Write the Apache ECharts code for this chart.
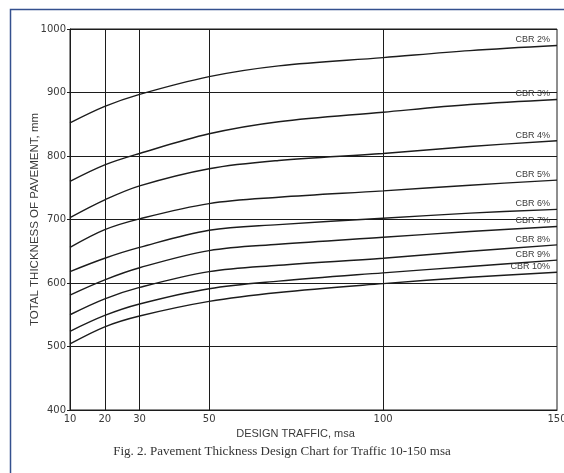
<!DOCTYPE html>
<html>
<head>
<meta charset="utf-8">
<script src="https://cdn.jsdelivr.net/npm/echarts@6/dist/echarts.min.js"></script>
<style>
  html, body { margin: 0; padding: 0; background: #fff; }
  #chart { width: 564px; height: 473px; }
</style>
</head>
<body>
<div id="chart"></div>
<script>
// design traffic (msa) where the curves were read
const traffic = [10, 20, 30, 50, 70, 100, 125, 150];
const xTicks = [10, 20, 30, 50, 100, 150];

// total pavement thickness (mm) for each subgrade CBR
const cbr2 = [852, 878, 897, 925, 942, 955, 966, 974];
const cbr3 = [760, 786, 804, 835, 854, 869, 881, 889];
const cbr4 = [703, 731, 753, 780, 793, 804, 815, 824];
const cbr5 = [656, 684, 701, 725, 735, 745, 754, 762];
const cbr6 = [618, 639, 656, 683, 692, 702, 710, 716];
const cbr7 = [581, 605, 624, 651, 661, 672, 681, 689];
const cbr8 = [550, 575, 593, 618, 628, 639, 650, 660];
const cbr9 = [524, 549, 567, 591, 603, 616, 626, 636];
const cbr10 = [504, 531, 548, 571, 585, 599, 609, 617];
const curveNames = ["CBR 2%", "CBR 3%", "CBR 4%", "CBR 5%", "CBR 6%", "CBR 7%", "CBR 8%", "CBR 9%", "CBR 10%"];
const curves = [cbr2, cbr3, cbr4, cbr5, cbr6, cbr7, cbr8, cbr9, cbr10];

const ink = "#1c1c1c";
const textInk = "#3a3a3a";

const chart = echarts.init(document.getElementById("chart"));

const series = curves.map((vals, i) => ({
  type: "line",
  name: curveNames[i],
  smooth: 0.35,
  showSymbol: true,
  symbol: "circle",
  symbolSize: 0,
  animation: false,
  lineStyle: { color: ink, width: 1.4 },
  itemStyle: { color: ink },
  data: vals.map((v, j) => {
    const pt = { value: [traffic[j], v] };
    if (j === vals.length - 1) {
      pt.label = {
        show: true,
        formatter: curveNames[i],
        position: "top",
        align: "right",
        distance: 1,
        offset: [-7, 0],
        color: textInk,
        fontFamily: "Liberation Sans, Arial, sans-serif",
        fontSize: 9,
      };
    }
    return pt;
  }),
  markLine: i === 0 ? {
    silent: true,
    symbol: ["none", "none"],
    label: { show: false },
    lineStyle: { color: ink, type: "solid", width: 1 },
    data: xTicks.slice(1, -1).map((x) => ({ xAxis: x })),
  } : undefined,
}));

chart.setOption({
  backgroundColor: "#fff",
  animation: false,
  grid: {
    left: 70,
    top: 29,
    right: 7,
    bottom: 63,
    show: true,
    borderColor: ink,
    borderWidth: 1,
    containLabel: false,
    outerBoundsMode: "none",
  },
  xAxis: {
    type: "value",
    min: 10,
    max: 150,
    name: "DESIGN TRAFFIC, msa",
    nameLocation: "middle",
    nameGap: 18,
    nameMoveOverlap: false,
    nameTextStyle: {
      color: textInk,
      fontFamily: "Liberation Sans, Arial, sans-serif",
      fontSize: 11,
      padding: [0, 36, 0, 0],
    },
    axisLine: { show: true, lineStyle: { color: ink, width: 1 } },
    axisTick: { show: false },
    splitLine: { show: false },
    axisLabel: {
      customValues: xTicks,
      margin: 4,
      color: textInk,
      fontFamily: "DejaVu Sans, sans-serif",
      fontSize: 10,
    },
  },
  yAxis: {
    type: "value",
    min: 400,
    max: 1000,
    interval: 100,
    name: "TOTAL THICKNESS OF PAVEMENT, mm",
    nameLocation: "middle",
    nameGap: 29,
    nameMoveOverlap: false,
    nameRotate: 90,
    nameTextStyle: {
      color: textInk,
      fontFamily: "Liberation Sans, Arial, sans-serif",
      fontSize: 11.5,
    },
    axisLine: { show: true, lineStyle: { color: ink, width: 1 } },
    axisTick: { show: true, length: 3, lineStyle: { color: ink } },
    splitLine: { show: true, lineStyle: { color: ink, width: 1 } },
    axisLabel: {
      margin: 4,
      color: textInk,
      fontFamily: "DejaVu Sans, sans-serif",
      fontSize: 10,
      formatter: (v) => String(v),
    },
  },
  graphic: [
    {
      type: "rect",
      left: 8,
      top: 7,
      shape: { width: 620, height: 520 },
      style: { fill: "none", stroke: "#34508e", lineWidth: 1.5 },
      silent: true,
    },
    {
      type: "text",
      left: "center",
      top: 445,
      style: {
        text: "Fig. 2. Pavement Thickness Design Chart for Traffic 10-150 msa",
        fill: "#333",
        font: "13px 'Liberation Serif', 'Times New Roman', serif",
      },
      silent: true,
    },
  ],
  series: series,
});
</script>
</body>
</html>
